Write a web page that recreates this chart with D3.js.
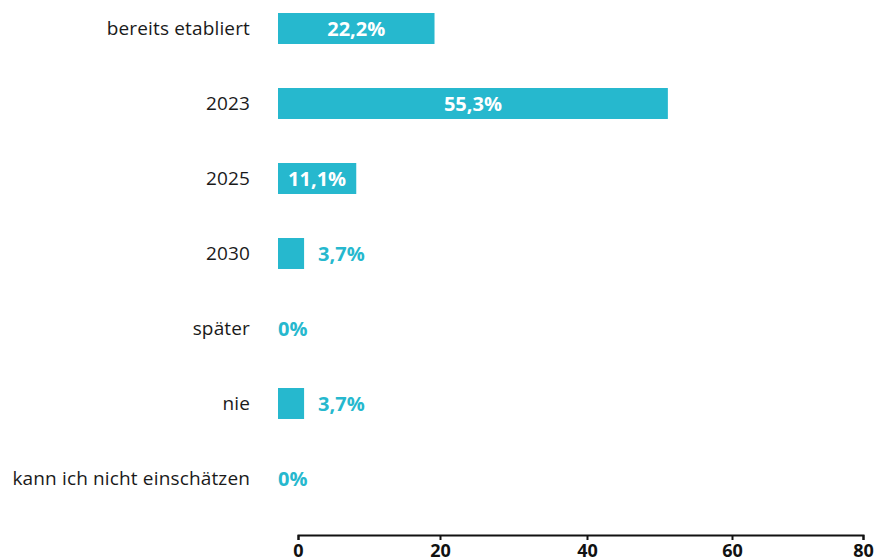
<!DOCTYPE html>
<meta charset="utf-8">
<style>
body { margin: 0; background: #fff; }
.cat { font-family: "Open Sans", sans-serif; font-size: 19px; letter-spacing: 0.15px; fill: #1a1a1a; }
.val { font-family: "Open Sans", sans-serif; font-size: 20px; font-weight: bold; }
.axis text { font-family: "Open Sans", sans-serif; font-size: 18px; font-weight: bold; fill: #111; }
.axis path, .axis line { stroke: #111; stroke-width: 2px; }
</style>
<svg width="879" height="560"></svg>
<script src="https://d3js.org/d3.v7.min.js"></script>
<script>

// data
var categories = ["bereits etabliert", "2023", "2025", "2030", "später", "nie", "kann ich nicht einschätzen"];
var values = [22.2, 55.3, 11.1, 3.7, 0, 3.7, 0];
var axisTicks = [0, 20, 40, 60, 80];

var teal = "#26b8ce";

var svg = d3.select("svg");

var y = d3.scaleBand()
    .domain(categories)
    .range([-9, 516])
    .paddingInner(0.587)
    .paddingOuter(0.2935);

// bars are drawn from their own baseline, a bit left of the axis zero (as in the original)
var xBar = d3.scaleLinear().domain([0, 80]).range([278, 842]);

// axis ticks in the original are not evenly spaced
var xAxis = d3.scaleLinear().domain(axisTicks).range([298, 440, 587, 732, 863]);

var rows = svg.selectAll(".row")
  .data(categories.map(function(c, i) { return {cat: c, val: values[i]}; }))
  .enter().append("g")
    .attr("class", "row");

rows.append("text")
    .attr("class", "cat")
    .attr("x", 250)
    .attr("y", function(d) { return y(d.cat) + y.bandwidth() / 2; })
    .attr("dy", "0.35em")
    .attr("text-anchor", "end")
    .text(function(d) { return d.cat; });

rows.filter(function(d) { return d.val > 0; })
  .append("rect")
    .attr("x", xBar(0))
    .attr("y", function(d) { return y(d.cat); })
    .attr("width", function(d) { return xBar(d.val) - xBar(0); })
    .attr("height", y.bandwidth())
    .attr("fill", teal);

function fmt(v) { return String(v).replace(".", ",") + "%"; }

rows.append("text")
    .attr("class", "val")
    .attr("y", function(d) { return y(d.cat) + y.bandwidth() / 2; })
    .attr("dy", "0.36em")
    .each(function(d) {
      var t = d3.select(this);
      if (d.val >= 10) {
        t.attr("x", (xBar(0) + xBar(d.val)) / 2)
         .attr("text-anchor", "middle")
         .attr("fill", "#fff");
      } else {
        t.attr("x", d.val > 0 ? xBar(d.val) + 14 : xBar(0))
         .attr("text-anchor", "start")
         .attr("fill", teal);
      }
    })
    .text(function(d) { return fmt(d.val); });

svg.append("g")
    .attr("class", "axis")
    .attr("transform", "translate(0,535)")
    .call(d3.axisBottom(xAxis).tickValues(axisTicks).tickSize(5).tickPadding(4));

</script>
